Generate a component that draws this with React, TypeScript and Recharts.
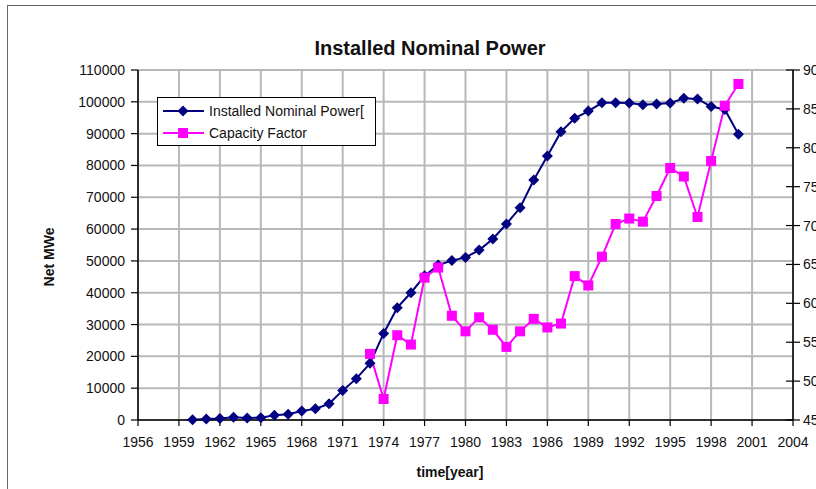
import { ComposedChart, Line, XAxis, YAxis, CartesianGrid, Legend } from "recharts";

const years = [
  1960, 1961, 1962, 1963, 1964, 1965, 1966, 1967, 1968, 1969,
  1970, 1971, 1972, 1973, 1974, 1975, 1976, 1977, 1978, 1979,
  1980, 1981, 1982, 1983, 1984, 1985, 1986, 1987, 1988, 1989,
  1990, 1991, 1992, 1993, 1994, 1995, 1996, 1997, 1998, 1999, 2000,
];
const installedPower = [
  100, 300, 500, 850, 650, 700, 1500, 1800, 2800, 3500,
  5100, 9300, 13000, 17800, 27200, 35300, 40000, 45300, 48700, 50100,
  51100, 53400, 56900, 61600, 66700, 75400, 83000, 90600, 94800, 97100,
  99700, 99700, 99600, 99100, 99300, 99600, 101100, 100900, 98500, 97600, 89800,
];
const capacityFactor: (number | null)[] = [
  null, null, null, null, null, null, null, null, null, null,
  null, null, null, 53.5, 47.7, 55.9, 54.7, 63.3, 64.6, 58.4,
  56.4, 58.2, 56.6, 54.4, 56.4, 58.0, 56.9, 57.4, 63.5, 62.3,
  66.0, 70.2, 70.9, 70.5, 73.8, 77.4, 76.3, 71.1, 78.3, 85.4, 88.2,
];
const xTicks = [1956, 1959, 1962, 1965, 1968, 1971, 1974, 1977, 1980, 1983, 1986, 1989, 1992, 1995, 1998, 2001, 2004];
const leftTicks = [0, 10000, 20000, 30000, 40000, 50000, 60000, 70000, 80000, 90000, 100000, 110000];
const rightTicks = [45, 50, 55, 60, 65, 70, 75, 80, 85, 90];

const data = years.map((year, i) => ({ year, power: installedPower[i], cf: capacityFactor[i] }));

const NAVY = "#000080";
const MAGENTA = "#ff00ff";
const GRID = "#b8b8b8";
const FONT = "'Liberation Sans', Arial, sans-serif";
const tickStyle = { fontSize: 14, fontFamily: FONT, fill: "#111" };

const Diamond = ({ cx, cy, r = 5, fill = NAVY }: any) => (
  <polygon points={`${cx},${cy - r} ${cx + r},${cy} ${cx},${cy + r} ${cx - r},${cy}`} fill={fill} />
);
const Square = ({ cx, cy, s = 5, fill = MAGENTA }: any) => (
  <rect x={cx - s} y={cy - s} width={s * 2} height={s * 2} fill={fill} />
);

// right axis ticks cross the axis line in the original
const RightTick = ({ x, y, payload }: any) => (
  <g>
    <line x1={x - 10} x2={x - 17} y1={y} y2={y} stroke="#000" strokeWidth={1.2} />
    <text x={x} y={y} dy={5} fontSize={14} fontFamily={FONT} fill="#111">{payload.value}</text>
  </g>
);

const LegendBox = () => (
  <div style={{ width: 217, height: 47, border: "1.5px solid #000", background: "#fff", fontFamily: FONT, fontSize: 14, color: "#111" }}>
    {[{ name: "Installed Nominal Power[", color: NAVY, kind: "d" }, { name: "Capacity Factor", color: MAGENTA, kind: "s" }].map((it, i) => (
      <div key={it.name} style={{ display: "flex", alignItems: "center", height: 22, marginTop: i === 0 ? 2 : 0 }}>
        <svg width={46} height={16} style={{ marginLeft: 4 }}>
          <line x1={1} x2={42} y1={8} y2={8} stroke={it.color} strokeWidth={2} />
          {it.kind === "d" ? <Diamond cx={21} cy={8} r={5.5} /> : <Square cx={21} cy={8} s={5} />}
        </svg>
        <span style={{ marginLeft: 1 }}>{it.name}</span>
      </div>
    ))}
  </div>
);

export default function App() {
  return (
    <div style={{ position: "absolute", left: 0, top: 0, width: 816, height: 489, overflow: "hidden", background: "#fff", fontFamily: FONT }}>
      <div style={{ position: "absolute", left: 7, top: 5, width: 900, height: 600, border: "1.5px solid #666" }} />
      <div style={{ position: "absolute", left: 230, width: 400, top: 36, textAlign: "center", fontWeight: "bold", fontSize: 20, lineHeight: "24px", color: "#111" }}>
        Installed Nominal Power
      </div>
      <div style={{ position: "absolute", left: 49, top: 257, transform: "translate(-50%, -50%) rotate(-90deg)", fontWeight: "bold", fontSize: 14, color: "#111", whiteSpace: "nowrap" }}>
        Net MWe
      </div>
      <div style={{ position: "absolute", left: 450, top: 472, transform: "translate(-50%, -50%)", fontWeight: "bold", fontSize: 14, color: "#111", whiteSpace: "nowrap" }}>
        time[year]
      </div>
      <div style={{ position: "absolute", left: 0, top: 0 }}>
        <ComposedChart width={816} height={489} data={data} margin={{ top: 70, right: 0, bottom: 39, left: 68 }}>
          <CartesianGrid stroke={GRID} strokeWidth={2} horizontal vertical />
          <XAxis dataKey="year" type="number" domain={[1956, 2004]} ticks={xTicks} interval={0}
                 tick={tickStyle} tickSize={6} tickMargin={11} height={30}
                 stroke="#000" axisLine={{ stroke: "#000", strokeWidth: 1.5 }} tickLine={{ stroke: "#000", strokeWidth: 1.2 }} />
          <YAxis domain={[0, 110000]} ticks={leftTicks} interval={0} width={70}
                 tick={tickStyle} tickSize={7} tickMargin={6}
                 axisLine={{ stroke: "#000", strokeWidth: 1.5 }} tickLine={{ stroke: "#000", strokeWidth: 1.2 }} />
          <YAxis yAxisId="right" orientation="right" domain={[45, 90]} ticks={rightTicks} interval={0} width={23}
                 tick={<RightTick />} tickSize={7} tickMargin={3}
                 axisLine={{ stroke: "#000", strokeWidth: 1.5 }} tickLine={{ stroke: "#000", strokeWidth: 1.2 }} />
          <Legend layout="vertical" align="center" verticalAlign="middle" content={<LegendBox />}
                  wrapperStyle={{ position: "absolute", left: 157, top: 97, width: 219, height: 49 }} />
          <Line dataKey="power" name="Installed Nominal Power[" stroke={NAVY} strokeWidth={2}
                isAnimationActive={false}
                dot={(p: any) => p.cy == null ? <g key={p.index} /> : <Diamond key={p.index} cx={p.cx} cy={p.cy} r={5.5} />} />
          <Line yAxisId="right" dataKey="cf" name="Capacity Factor" stroke={MAGENTA} strokeWidth={2}
                isAnimationActive={false}
                dot={(p: any) => p.cy == null ? <g key={p.index} /> : <Square key={p.index} cx={p.cx} cy={p.cy} s={5} />} />
        </ComposedChart>
      </div>
    </div>
  );
}
